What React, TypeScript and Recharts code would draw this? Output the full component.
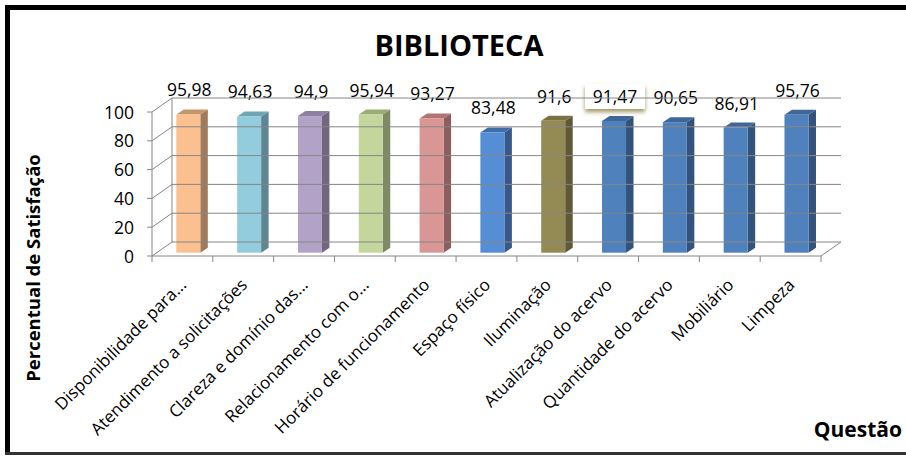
import React from "react";
import { BarChart, Bar, XAxis, YAxis, LabelList } from "recharts";

// Questions (categories) and satisfaction percentages
const questions = [
  "Disponibilidade para...",
  "Atendimento a solicitações",
  "Clareza e domínio das...",
  "Relacionamento com o...",
  "Horário de funcionamento",
  "Espaço físico",
  "Iluminação",
  "Atualização do acervo",
  "Quantidade do acervo",
  "Mobiliário",
  "Limpeza",
];
const satisfaction = [95.98, 94.63, 94.9, 95.94, 93.27, 83.48, 91.6, 91.47, 90.65, 86.91, 95.76];
const yTicks = [0, 20, 40, 60, 80, 100];
const boxedLabels = ["Atualização do acervo"];

// face colors of the 3D bars
const frontColors = ["#FAC090", "#93CDDD", "#B3A2C7", "#C3D69B", "#D99694", "#558ED5", "#948A54", "#4F81BD", "#4F81BD", "#4F81BD", "#4F81BD"];
const sideColors = ["#A07B5A", "#5E8591", "#73677F", "#7E8A63", "#8C5E5D", "#36598A", "#5F5836", "#34537C", "#34537C", "#34537C", "#34537C"];
const topColors = ["#C4946B", "#6FA5B4", "#8E80A1", "#9AAD77", "#B07473", "#3F6DAA", "#7B7242", "#3E6699", "#3E6699", "#3E6699", "#3E6699"];

const data = questions.map((q, i) => ({ questao: q, valor: satisfaction[i] }));

const W = 906;
const H = 457;
const MARGIN = { top: 112, right: 85, bottom: 0, left: 0 };
const Y_AXIS_W = 152;
const X_AXIS_H = 201;
const PLOT_LEFT = MARGIN.left + Y_AXIS_W;
const PLOT_W = W - PLOT_LEFT - MARGIN.right;
const PLOT_H = H - MARGIN.top - MARGIN.bottom - X_AXIS_H;
const PLOT_BOTTOM = MARGIN.top + PLOT_H;
const BAND = PLOT_W / questions.length;

// 3D offsets
const WALL_DX = 20;
const WALL_DY = -14;
const BAR_DX = 6.3;
const BAR_DY = -3.3;
const DEPTH_X = 7.5;
const DEPTH_Y = -5;

const GRID = "#868686";
const FONT = "'Open Sans', Lato, sans-serif";

const fmt = (v: number) => String(v).replace(".", ",");

const Bar3D = (props: any) => {
  const { x, y, width, height, index } = props;
  const fx = x + BAR_DX;
  const fy = y + BAR_DY;
  const r = fx + width;
  return (
    <g>
      <path
        d={`M${r},${fy} L${r + DEPTH_X},${fy + DEPTH_Y} L${r + DEPTH_X},${fy + height + DEPTH_Y} L${r},${fy + height} Z`}
        fill={sideColors[index]}
      />
      <path
        d={`M${fx},${fy} L${fx + DEPTH_X},${fy + DEPTH_Y} L${r + DEPTH_X},${fy + DEPTH_Y} L${r},${fy} Z`}
        fill={topColors[index]}
      />
      <rect x={fx} y={fy} width={width} height={height} fill={frontColors[index]} />
    </g>
  );
};

const ValueLabel = (props: any) => {
  const { x, y, width, value, index } = props;
  const cx = x + width / 2 + BAR_DX + 1;
  const by = y + BAR_DY - 18;
  const boxed = boxedLabels.includes(questions[index]);
  return (
    <g>
      {boxed && (
        <rect x={cx - 30} y={by - 19} width={60} height={25} fill="#fff" filter="url(#labelShadow)" />
      )}
      <text x={cx} y={by} textAnchor="middle" fontSize={17.5} fontFamily={FONT} fill="#000">
        {fmt(value)}
      </text>
    </g>
  );
};

const YTick = (props: any) => {
  const { y, payload } = props;
  const bx = PLOT_LEFT + WALL_DX;
  const byy = y + WALL_DY;
  const step = (PLOT_H * 20) / 100;
  return (
    <g>
      <line x1={PLOT_LEFT - 5} y1={y} x2={PLOT_LEFT} y2={y} stroke={GRID} />
      <line x1={PLOT_LEFT} y1={y} x2={bx} y2={byy} stroke={GRID} />
      <line x1={bx} y1={byy} x2={bx + PLOT_W} y2={byy} stroke={GRID} />
      {payload.value > 0 && <line x1={bx} y1={byy} x2={bx} y2={byy + step} stroke={GRID} />}
      <text x={PLOT_LEFT - 18} y={y + 6.5} textAnchor="end" fontSize={17.5} fontFamily={FONT} fill="#000">
        {payload.value}
      </text>
    </g>
  );
};

const XTick = (props: any) => {
  const { x, payload, index } = props;
  const last = index === questions.length - 1;
  const tx = x + 5;
  const ty = PLOT_BOTTOM + 30;
  return (
    <g>
      <line x1={x - BAND / 2} y1={PLOT_BOTTOM} x2={x - BAND / 2} y2={PLOT_BOTTOM + 6} stroke={GRID} />
      {last && (
        <g>
          <line x1={x + BAND / 2} y1={PLOT_BOTTOM} x2={x + BAND / 2} y2={PLOT_BOTTOM + 6} stroke={GRID} />
          <line x1={x + BAND / 2} y1={PLOT_BOTTOM} x2={x + BAND / 2 + WALL_DX} y2={PLOT_BOTTOM + WALL_DY} stroke={GRID} />
        </g>
      )}
      <text
        x={tx}
        y={ty}
        textAnchor="end"
        fontSize={17}
        fontFamily={FONT}
        fill="#000"
        transform={`rotate(-45 ${tx} ${ty})`}
      >
        {payload.value}
      </text>
    </g>
  );
};

export default function App() {
  return (
    <div style={{ position: "absolute", left: 0, top: 0, width: W, height: H, background: "#fff", fontFamily: FONT }}>
      {/* chart border */}
      <div style={{ position: "absolute", left: 5, top: 5, width: W - 5, height: 5, background: "#000" }} />
      <div style={{ position: "absolute", left: 5, top: 5, width: 5, height: 450, background: "#000" }} />
      <div style={{ position: "absolute", left: 5, top: 452, width: W - 5, height: 3, background: "#333" }} />

      <div style={{ position: "absolute", left: 0, width: 918, top: 25, textAlign: "center", fontSize: 29, fontWeight: 700 }}>
        BIBLIOTECA
      </div>
      <div
        style={{
          position: "absolute",
          left: 32,
          top: 268,
          transform: "translate(-50%, -50%) rotate(-90deg)",
          whiteSpace: "nowrap",
          fontSize: 18.5,
          fontWeight: 700,
        }}
      >
        Percentual de Satisfação
      </div>
      <div style={{ position: "absolute", right: 4, top: 415, fontSize: 21, fontWeight: 700 }}>Questão</div>

      <svg width={0} height={0} style={{ position: "absolute" }}>
        <defs>
          <filter id="labelShadow" x="-30%" y="-40%" width="160%" height="200%">
            <feDropShadow dx="0" dy="3" stdDeviation="2" floodColor="#948A54" floodOpacity="0.9" />
          </filter>
        </defs>
      </svg>

      <div style={{ position: "absolute", left: 0, top: 0 }}>
        <BarChart width={W} height={H} data={data} margin={MARGIN} barSize={24}>
          <YAxis
            type="number"
            domain={[0, 100]}
            ticks={yTicks}
            width={Y_AXIS_W}
            axisLine={{ stroke: GRID }}
            tickLine={false}
            tick={<YTick />}
            interval={0}
            zIndex={-1}
          />
          <XAxis
            dataKey="questao"
            height={X_AXIS_H}
            axisLine={{ stroke: GRID }}
            tickLine={false}
            tick={<XTick />}
            interval={0}
            zIndex={-1}
          />
          <Bar dataKey="valor" shape={<Bar3D />} isAnimationActive={false}>
            <LabelList dataKey="valor" content={<ValueLabel />} />
          </Bar>
        </BarChart>
      </div>
    </div>
  );
}
